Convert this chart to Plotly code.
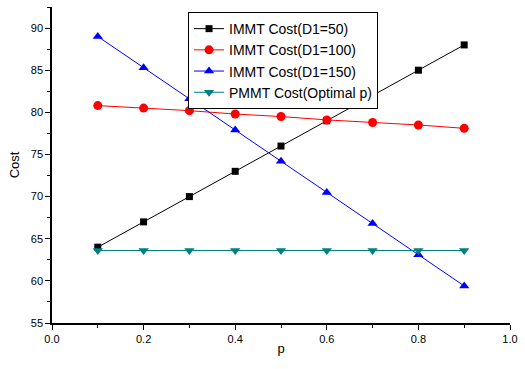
import plotly.graph_objects as go

p = [0.1, 0.2, 0.3, 0.4, 0.5, 0.6, 0.7, 0.8, 0.9]
immt_d50 = [64.0, 67.0, 70.0, 73.0, 76.0, 79.0, 82.0, 85.0, 88.0]
immt_d100 = [80.8, 80.5, 80.2, 79.8, 79.5, 79.1, 78.8, 78.5, 78.1]
immt_d150 = [89.0, 85.3, 81.6, 77.9, 74.2, 70.5, 66.8, 63.1, 59.4]
pmmt_opt = [63.6, 63.6, 63.6, 63.6, 63.6, 63.6, 63.6, 63.6, 63.6]

names = ["IMMT Cost(D1=50)", "IMMT Cost(D1=100)", "IMMT Cost(D1=150)", "PMMT Cost(Optimal p)"]
colors = ["#000000", "#ff0000", "#0000ff", "#008080"]
symbols = ["square", "circle", "triangle-up", "triangle-down"]
sizes = [7, 9, 9, 9]
series = [immt_d50, immt_d100, immt_d150, pmmt_opt]

fig = go.Figure()
for name, ys, c, s, sz in zip(names, series, colors, symbols, sizes):
    fig.add_trace(go.Scatter(
        x=p, y=ys, name=name, mode="lines+markers",
        line=dict(color=c, width=1),
        marker=dict(symbol=s, color=c, size=sz),
    ))

axis_common = dict(
    showline=True, linecolor="black", linewidth=1.5,
    ticks="outside", ticklen=5, tickwidth=1.2, tickcolor="black",
    showgrid=False, zeroline=False, mirror=False,
    tickfont=dict(family="Arial, Liberation Sans", size=11, color="black"),
)

fig.update_layout(
    width=525, height=369,
    margin=dict(l=52, r=8, t=7, b=46),
    paper_bgcolor="white", plot_bgcolor="white",
    font=dict(family="Arial, Liberation Sans", color="black"),
    xaxis=dict(range=[0, 1], dtick=0.2, tickformat=".1f",
               minor=dict(dtick=0.1, ticks="outside", ticklen=3, tickcolor="black"),
               title=dict(text="p", font=dict(size=13), standoff=0),
               **axis_common),
    yaxis=dict(range=[55, 92.5], dtick=5,
               minor=dict(dtick=2.5, ticks="outside", ticklen=3, tickcolor="black"),
               title=dict(text="Cost", font=dict(size=13), standoff=8),
               **axis_common),
    legend=dict(x=0.297, y=0.984, xanchor="left", yanchor="top",
                bordercolor="black", borderwidth=1, bgcolor="white",
                font=dict(size=14), tracegroupgap=0),
)

fig.write_html("out.html")
